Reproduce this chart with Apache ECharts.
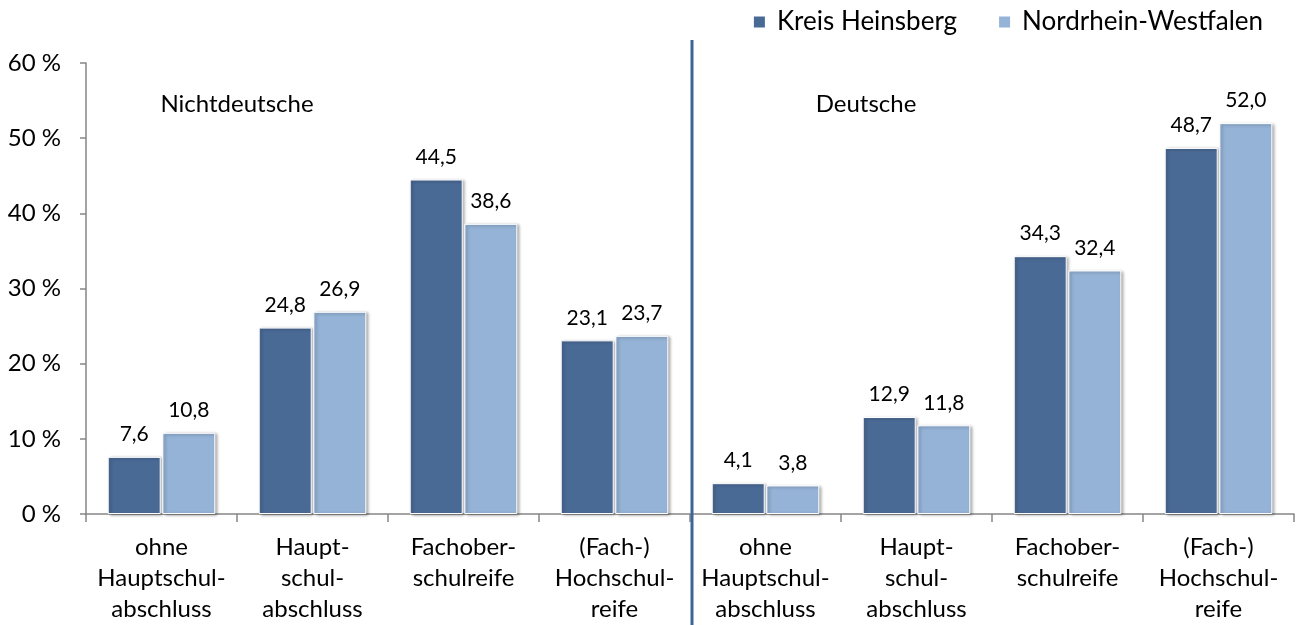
<!DOCTYPE html>
<html>
<head>
<meta charset="utf-8">
<script src="https://cdn.jsdelivr.net/npm/echarts@6/dist/echarts.min.js"></script>
<style>
  html, body { margin: 0; padding: 0; background: #fff; }
  #chart { width: 1299px; height: 625px; }
</style>
</head>
<body>
<div id="chart"></div>
<script>
'use strict';
// Daten
var categories = [
    'ohne\nHauptschul-\nabschluss', 'Haupt-\nschul-\nabschluss', 'Fachober-\nschulreife', '(Fach-)\nHochschul-\nreife',
    'ohne\nHauptschul-\nabschluss', 'Haupt-\nschul-\nabschluss', 'Fachober-\nschulreife', '(Fach-)\nHochschul-\nreife'
];
var kreisHeinsberg = [7.6, 24.8, 44.5, 23.1, 4.1, 12.9, 34.3, 48.7];
var nrw = [10.8, 26.9, 38.6, 23.7, 3.8, 11.8, 32.4, 52.0];
var groupNames = ['Nichtdeutsche', 'Deutsche'];

var FONT = 'Lato, "Open Sans", sans-serif';
var chart = echarts.init(document.getElementById('chart'));

function fmt(p) {
    return p.value.toFixed(1).replace('.', ',');
}

var barStyle = function (color) {
    return {
        color: color,
        borderColor: '#ffffff',
        borderWidth: 1,
        shadowColor: 'rgba(0,0,0,0.35)',
        shadowBlur: 3,
        shadowOffsetX: 2,
        shadowOffsetY: 1
    };
};

var option = {
    animation: false,
    textStyle: { fontFamily: FONT },
    grid: { left: 86, right: 5, top: 63, bottom: 109 },
    legend: {
        right: 31,
        top: 4,
        itemWidth: 13,
        itemHeight: 13,
        itemGap: 40,
        icon: 'rect',
        textStyle: { fontSize: 26, color: '#000', fontFamily: FONT, padding: [0, 0, 0, 6] },
        data: ['Kreis Heinsberg', 'Nordrhein-Westfalen']
    },
    xAxis: {
        type: 'category',
        data: categories,
        axisLine: { lineStyle: { color: '#868686', width: 1.5 } },
        axisTick: { show: true, length: 8, lineStyle: { color: '#868686', width: 1.5 } },
        axisLabel: {
            interval: 0,
            color: '#000',
            fontSize: 24,
            lineHeight: 31,
            margin: 18,
            fontFamily: FONT
        }
    },
    yAxis: {
        type: 'value',
        min: 0,
        max: 60,
        interval: 10,
        splitLine: { show: false },
        axisLine: { show: true, lineStyle: { color: '#868686', width: 1.5 } },
        axisTick: { show: true, length: 6, lineStyle: { color: '#868686', width: 1.5 } },
        axisLabel: {
            color: '#000',
            fontSize: 24,
            margin: 25,
            fontFamily: FONT,
            formatter: function (v) { return v + ' %'; }
        }
    },
    series: [{
        name: 'Kreis Heinsberg',
        type: 'bar',
        data: kreisHeinsberg,
        barWidth: 53,
        barGap: '3%',
        itemStyle: barStyle('#4a6a96'),
        label: { show: true, position: 'top', distance: 12, color: '#000', fontSize: 21, formatter: fmt, fontFamily: FONT }
    }, {
        name: 'Nordrhein-Westfalen',
        type: 'bar',
        data: nrw,
        barWidth: 53,
        itemStyle: barStyle('#95b3d7'),
        label: { show: true, position: 'top', distance: 12, color: '#000', fontSize: 21, formatter: fmt, fontFamily: FONT }
    }]
};
chart.setOption(option);

// Trennlinie und Gruppentitel
var x0 = chart.convertToPixel({ xAxisIndex: 0 }, 0);
var x1 = chart.convertToPixel({ xAxisIndex: 0 }, 1);
var x3 = chart.convertToPixel({ xAxisIndex: 0 }, 3);
var x4 = chart.convertToPixel({ xAxisIndex: 0 }, 4);
var x5 = chart.convertToPixel({ xAxisIndex: 0 }, 5);
var divX = (x3 + x4) / 2;
var yTitle = chart.convertToPixel({ yAxisIndex: 0 }, 54.5);

chart.setOption({
    graphic: [{
        type: 'line',
        shape: { x1: divX + 2, y1: 40, x2: divX + 2, y2: 625 },
        style: { stroke: '#3e6596', lineWidth: 3 },
        z: 10
    }, {
        type: 'text',
        x: (x0 + x1) / 2,
        y: yTitle,
        style: { text: groupNames[0], fontSize: 24, fill: '#000', align: 'center', verticalAlign: 'middle', fontFamily: FONT }
    }, {
        type: 'text',
        x: (x4 + x5) / 2 + 25,
        y: yTitle,
        style: { text: groupNames[1], fontSize: 24, fill: '#000', align: 'center', verticalAlign: 'middle', fontFamily: FONT }
    }]
});
</script>
</body>
</html>
